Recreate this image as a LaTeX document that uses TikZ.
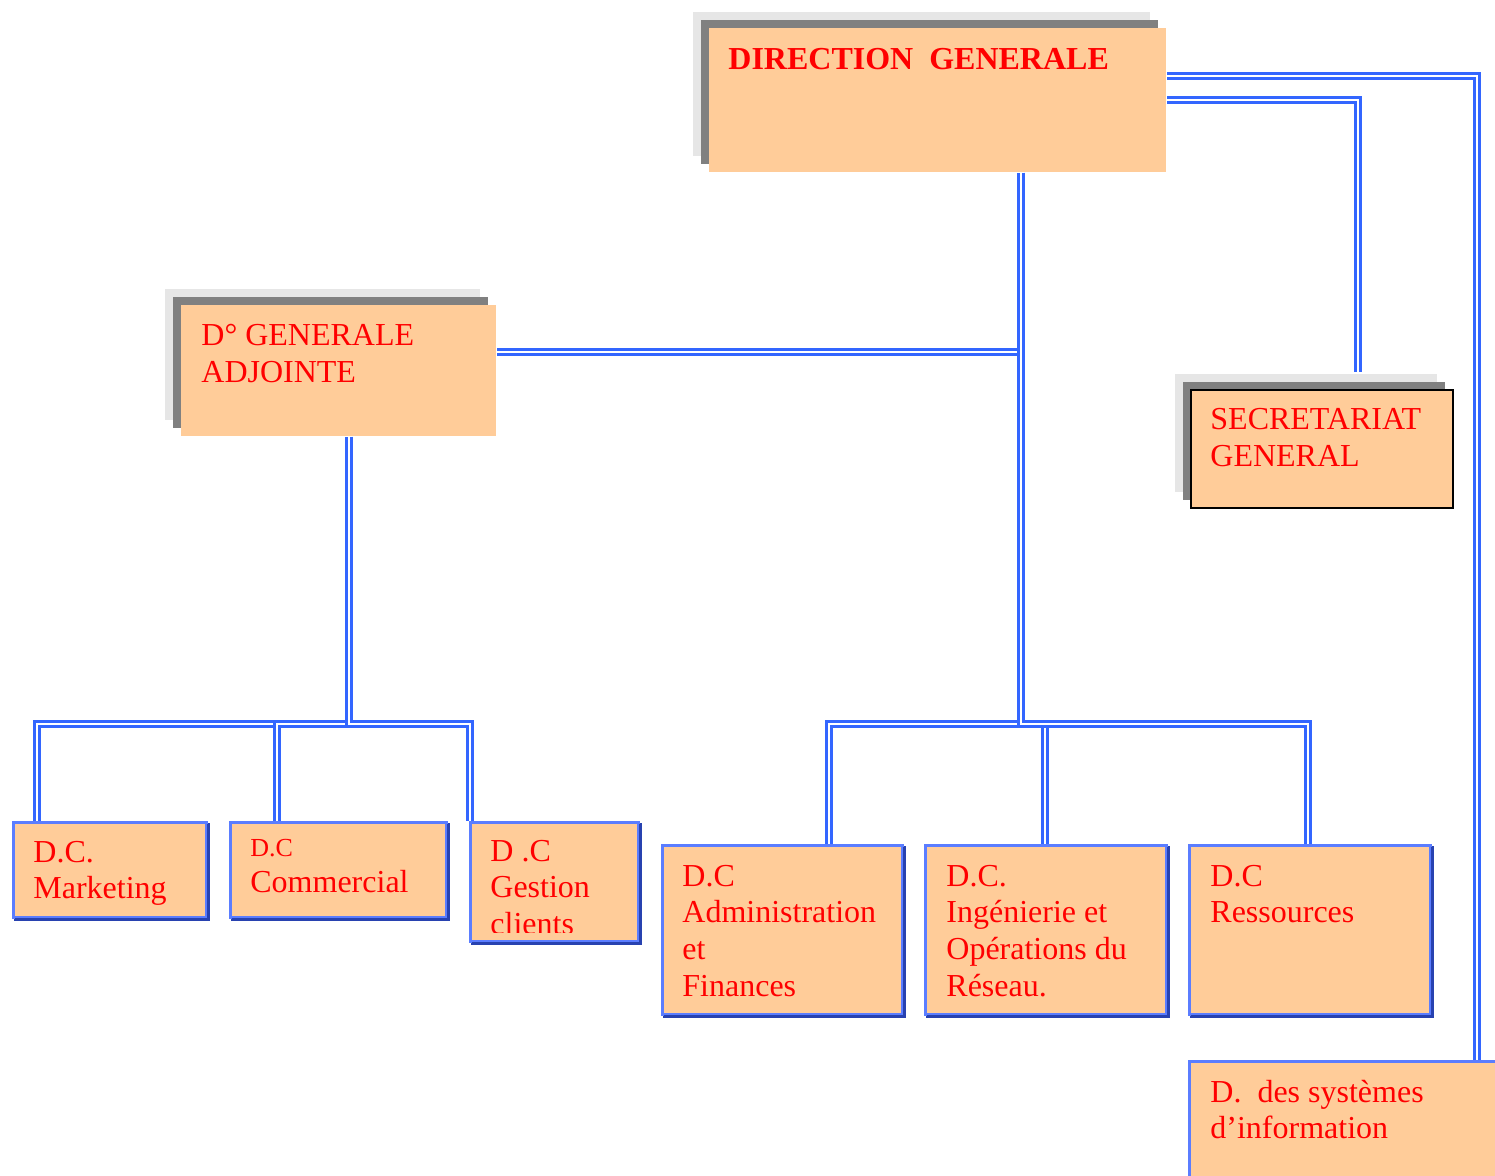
\documentclass[tikz,border=0pt]{standalone}
\usepackage{fontspec}
\setmainfont{Liberation Serif}
\usetikzlibrary{calc,shadows,backgrounds}

\definecolor{peach}{HTML}{FFCC99}
\definecolor{shadelight}{HTML}{E6E6E6}
\definecolor{shadedark}{HTML}{808080}
\definecolor{linkblue}{HTML}{3366FF}
\definecolor{rimlight}{HTML}{5B7DFF}
\definecolor{rimdark}{HTML}{2842B0}
\definecolor{txtred}{HTML}{FF0000}

% several lines of text, the first baseline being the base anchor
\newcommand\boxlines[1]{\begin{tabular}[t]{@{}l@{}}#1\end{tabular}}

\begin{document}
\begin{tikzpicture}[x=0.5pt,y=-0.5pt,
  headbox/.style={rectangle, inner sep=0pt, anchor=north west, fill=peach,
    general shadow={fill=shadelight, shadow xshift=-8pt, shadow yshift=8pt},
    general shadow={fill=shadedark, shadow xshift=-4pt, shadow yshift=4pt}},
  unitbox/.style={rectangle, inner sep=0pt, anchor=north west, fill=peach,
    draw=rimlight, line width=1.6pt,
    general shadow={draw=rimdark, fill=rimdark, line width=1.6pt,
      shadow xshift=1.1pt, shadow yshift=-1.1pt}},
  darkrim/.style={draw=rimdark, line width=1.6pt},
  boxtext/.style={anchor=base west, inner sep=0pt, text=txtred,
    font=\fontsize{16pt}{18.4pt}\selectfont},
  link/.style={draw=linkblue, line width=1.3pt, double=white, double distance=1.1pt}]

\useasboundingbox (0,0) rectangle (1495,1176);
\clip (0,0) rectangle (1495,1176);

% ---- top level boxes with stacked grey shadows
\node[headbox, minimum width=228.5pt, minimum height=72pt] (dg) at (709,28) {};
\node[headbox, minimum width=157.5pt, minimum height=65.5pt] (dga) at (181,305) {};
\node[headbox, draw=black, line width=1pt, minimum width=131pt, minimum height=59pt] (sg) at (1190,389) {};

% ---- departments
\node[unitbox, minimum width=96.5pt, minimum height=47.5pt] (mkt) at (12,821) {};
\node[unitbox, minimum width=108pt, minimum height=47.5pt] (com) at (229,821) {};
\node[unitbox, minimum width=84pt, minimum height=59.5pt] (gc) at (469,821) {};
\node[unitbox, minimum width=120pt, minimum height=84.5pt] (adm) at (661,844) {};
\node[unitbox, minimum width=120.5pt, minimum height=84.5pt] (ing) at (924,844) {};
\node[unitbox, minimum width=120.5pt, minimum height=84.5pt] (res) at (1188,844) {};
\node[unitbox, minimum width=175pt, minimum height=85pt] (dsi) at (1188,1060) {};

% darker right and bottom edges of the department boxes
\foreach \b in {mkt,com,gc,adm,ing,res}
  \draw[darkrim] ($(\b.north east)+(0,3)$) -- (\b.south east) -- ($(\b.south west)+(3,0)$);

% ---- texts
\node[boxtext, font=\fontsize{16pt}{18.4pt}\selectfont\bfseries] (tdg) at (728,70) {DIRECTION\ \ GENERALE};
\node[boxtext] (tdga) at (201,346) {\boxlines{D° GENERALE\\ADJOINTE}};
\node[boxtext] (tsg) at (1210,430) {\boxlines{SECRETARIAT\\GENERAL}};
\node[boxtext] (tmkt) at (33,862) {\boxlines{D.C.\\Marketing}};
\node[boxtext] (tcom) at (250,856) {\boxlines{{\fontsize{13pt}{15pt}\selectfont D.C}\\Commercial}};
\begin{scope}
  \clip (gc.north west) rectangle ($(gc.south east)+(0,-11)$);
  \node[boxtext] (tgc) at (490,861) {\boxlines{D .C\\Gestion\\clients}};
\end{scope}
\node[boxtext] (tadm) at (682,886) {\boxlines{D.C\\Administration\\et\\Finances}};
\node[boxtext] (ting) at (946,886) {\boxlines{D.C.\\Ingénierie et\\Opérations du\\Réseau.}};
\node[boxtext] (tres) at (1210,886) {\boxlines{D.C\\Ressources}};
\node[boxtext] (tdsi) at (1210,1102) {\boxlines{D.\ \ des systèmes\\d’information}};

% ---- connectors
\begin{scope}[on background layer]
  \draw[link] ($(dg.south west)+(312,0)$) |- ($(dga.north east)+(0,47)$);
  \draw[link] ($(dg.south west)+(312,0)$) -- ++(0,551) -| ($(adm.north west)+(168,0)$);
  \draw[link] ($(dg.south west)+(312,0)$) -- ++(0,551) -| ($(ing.north west)+(121,0)$);
  \draw[link] ($(dg.south west)+(312,0)$) -- ++(0,551) -| ($(res.north west)+(120,0)$);
  \draw[link] ($(dga.south west)+(168,0)$) -- ++(0,287) -| ($(mkt.north west)+(25,0)$);
  \draw[link] ($(dga.south west)+(168,0)$) -- ++(0,287) -| ($(com.north west)+(48,0)$);
  \draw[link] ($(dga.south west)+(168,0)$) -- ++(0,287) -| ($(gc.north west)+(1,0)$);
  \draw[link] ($(dg.north east)+(0,72)$) -| ($(sg.north west)+(168,-17)$);
  \draw[link] ($(dg.north east)+(0,48)$) -| ($(dsi.north west)+(289,0)$);
\end{scope}
\end{tikzpicture}
\end{document}
